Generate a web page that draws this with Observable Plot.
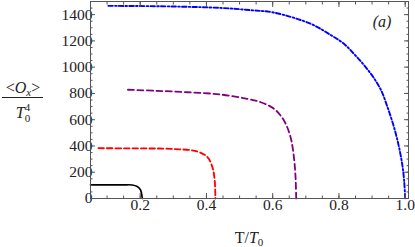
<!DOCTYPE html>
<html>
<head>
<meta charset="utf-8">
<script src="https://cdn.jsdelivr.net/npm/d3@7"></script>
<script src="https://cdn.jsdelivr.net/npm/@observablehq/plot@0.6"></script>
<style>
  html, body { margin: 0; padding: 0; background: #fff; }
  svg text { font-family: "Liberation Serif", "DejaVu Serif", serif; }
</style>
</head>
<body>
<div id="chart"></div>
<script>
// Series (T/T0, <Ox>/T0^4)
const blackT = [0.05, 0.10, 0.15, 0.176, 0.191, 0.201, 0.206, 0.207];
const blackV = [104, 104, 104, 103, 91, 66, 10, 0];

const redT = [0.074, 0.15, 0.22, 0.292, 0.372, 0.403, 0.418, 0.425, 0.427];
const redV = [383, 382, 381, 378, 358, 315, 239, 137, 0];

const purpleT = [0.163, 0.25, 0.342, 0.443, 0.523, 0.564, 0.604, 0.634, 0.654, 0.664, 0.669, 0.671];
const purpleV = [828, 820, 809, 792, 759, 733, 683, 594, 467, 315, 162, 0];

const blueT = [0.104, 0.30, 0.45, 0.533, 0.603, 0.715, 0.775, 0.815, 0.845, 0.876, 0.906, 0.928, 0.946, 0.966, 0.981, 0.992, 0.997, 1.0];
const blueV = [1467, 1462, 1450, 1434, 1416, 1330, 1245, 1178, 1102, 1015, 915, 820, 700, 545, 395, 245, 130, 0];

const xMajor = [0.2, 0.4, 0.6, 0.8, 1.0];
const xMinor = d3.range(0.05, 1.0101, 0.05).map(d => +d.toFixed(2));
const yMajor = [0, 200, 400, 600, 800, 1000, 1200, 1400];
const yMinor = d3.range(0, 1501, 50);

const series = [
  {name: "black", T: blackT, V: blackV, color: "#000000", dash: null, width: 1.7},
  {name: "red", T: redT, V: redV, color: "#ff0000", dash: "5.5,3", width: 1.8},
  {name: "purple", T: purpleT, V: purpleV, color: "#800080", dash: "6,3.5", width: 1.8},
  {name: "blue", T: blueT, V: blueV, color: "#0000ff", dash: "4.5,2.2,1.6,2.2", width: 1.9}
];

const lineMarks = series.map(s => Plot.line(
  s.T.map((t, i) => ({t, v: s.V[i]})),
  {x: "t", y: "v", stroke: s.color, strokeWidth: s.width, strokeDasharray: s.dash, curve: "catmull-rom"}
));

const tickColor = "#555";
const serif = "'Liberation Serif', 'DejaVu Serif', serif";

const chart = Plot.plot({
  width: 415,
  height: 247,
  marginLeft: 90,
  marginRight: 7,
  marginTop: 1,
  marginBottom: 49,
  style: {fontFamily: serif, fontSize: "15.5px", color: "#222", background: "#fff"},
  x: {domain: [0.05, 1.01]},
  y: {domain: [0, 1500]},
  marks: [
    ...lineMarks,
    Plot.axisX({anchor: "bottom", ticks: xMajor, tickSize: -5, tickPadding: 5, tickFormat: d3.format(".1f"), stroke: tickColor, label: null}),
    Plot.axisX({anchor: "bottom", ticks: xMinor, tickSize: -2.5, text: null, stroke: tickColor, label: null}),
    Plot.axisX({anchor: "top", ticks: xMajor, tickSize: -5, text: null, stroke: tickColor, label: null}),
    Plot.axisX({anchor: "top", ticks: xMinor, tickSize: -2.5, text: null, stroke: tickColor, label: null}),
    Plot.axisY({anchor: "left", ticks: yMajor, tickSize: -5, tickPadding: 3, tickFormat: d3.format("d"), stroke: tickColor, label: null}),
    Plot.axisY({anchor: "left", ticks: yMinor, tickSize: -2.5, text: null, stroke: tickColor, label: null}),
    Plot.axisY({anchor: "right", ticks: yMajor, tickSize: -5, text: null, stroke: tickColor, label: null}),
    Plot.axisY({anchor: "right", ticks: yMinor, tickSize: -2.5, text: null, stroke: tickColor, label: null}),
    Plot.frame({stroke: tickColor, strokeWidth: 1})
  ]
});

document.getElementById("chart").appendChild(chart);

// Axis labels and panel tag as real text
const svg = d3.select(chart);

// x label: T/T0
const xl = svg.append("text")
  .attr("x", 249).attr("y", 243)
  .attr("text-anchor", "middle")
  .attr("font-family", serif).attr("font-size", 16).attr("fill", "#222");
xl.append("tspan").text("T/");
xl.append("tspan").attr("font-style", "italic").text("T");
xl.append("tspan").attr("font-size", 11).attr("dy", 3).text("0");

// y label: fraction <Ox> / T0^4
const num = svg.append("text")
  .attr("x", 23).attr("y", 93)
  .attr("text-anchor", "middle")
  .attr("font-family", serif).attr("font-size", 16).attr("fill", "#222");
num.append("tspan").text("<");
num.append("tspan").attr("font-style", "italic").text("O");
num.append("tspan").attr("font-style", "italic").attr("font-size", 11).attr("dy", 3).text("x");
num.append("tspan").attr("dy", -3).text(">");

svg.append("line")
  .attr("x1", 2).attr("x2", 43).attr("y1", 97.5).attr("y2", 97.5)
  .attr("stroke", "#222").attr("stroke-width", 1);

const den = svg.append("text")
  .attr("x", 23).attr("y", 118)
  .attr("text-anchor", "middle")
  .attr("font-family", serif).attr("font-size", 16).attr("fill", "#222");
den.append("tspan").attr("font-style", "italic").text("T");
den.append("tspan").attr("font-size", 11).attr("dy", -7).text("4");
den.append("tspan").attr("font-size", 11).attr("dx", -5.5).attr("dy", 11).text("0");

// panel tag (a)
svg.append("text")
  .attr("x", 382).attr("y", 27)
  .attr("text-anchor", "middle")
  .attr("font-family", serif).attr("font-size", 16).attr("font-style", "italic").attr("fill", "#222")
  .text("(a)");
</script>
</body>
</html>
